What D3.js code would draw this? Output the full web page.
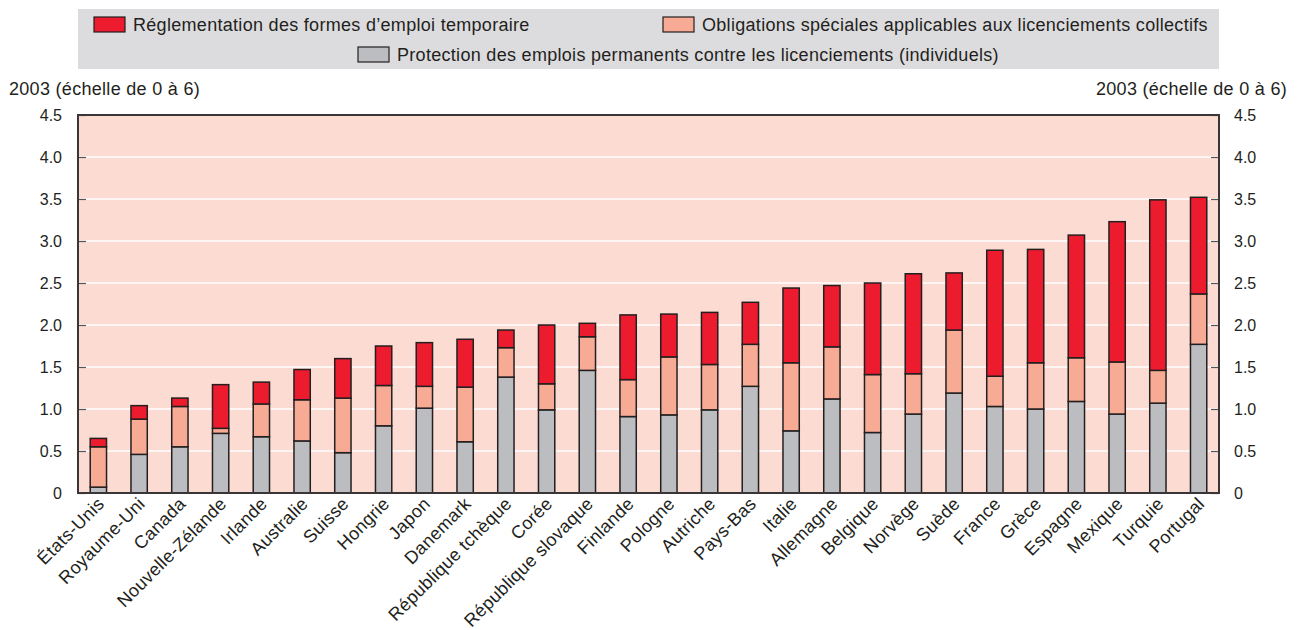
<!DOCTYPE html>
<meta charset="utf-8">
<style>
  body { margin: 0; background: #fff; }
  text { font-family: "Liberation Sans", Arial, sans-serif; fill: #231f20; }
</style>
<body>
<script src="https://d3js.org/d3.v7.min.js"></script>
<script>
var countries = ["États-Unis", "Royaume-Uni", "Canada", "Nouvelle-Zélande", "Irlande", "Australie",
  "Suisse", "Hongrie", "Japon", "Danemark", "République tchèque", "Corée", "République slovaque",
  "Finlande", "Pologne", "Autriche", "Pays-Bas", "Italie", "Allemagne", "Belgique", "Norvège",
  "Suède", "France", "Grèce", "Espagne", "Mexique", "Turquie", "Portugal"];

// protection des emplois permanents (individuels)
var permanent = [0.07, 0.46, 0.55, 0.71, 0.67, 0.62, 0.48, 0.80, 1.01, 0.61, 1.38, 0.99, 1.46,
  0.91, 0.93, 0.99, 1.27, 0.74, 1.12, 0.72, 0.94, 1.19, 1.03, 1.00, 1.09, 0.94, 1.07, 1.77];
// obligations spéciales, licenciements collectifs
var collectifs = [0.48, 0.42, 0.48, 0.06, 0.39, 0.49, 0.65, 0.48, 0.26, 0.65, 0.35, 0.31, 0.40,
  0.44, 0.69, 0.54, 0.50, 0.81, 0.62, 0.69, 0.48, 0.75, 0.36, 0.55, 0.52, 0.62, 0.39, 0.60];
// réglementation des formes d'emploi temporaire
var temporaire = [0.10, 0.16, 0.10, 0.52, 0.26, 0.36, 0.47, 0.47, 0.52, 0.57, 0.21, 0.70, 0.16,
  0.77, 0.51, 0.62, 0.50, 0.89, 0.73, 1.09, 1.19, 0.68, 1.50, 1.35, 1.46, 1.67, 2.03, 1.15];

var yTicks = [0, 0.5, 1, 1.5, 2, 2.5, 3, 3.5, 4, 4.5];
var axisTitle = "2003 (échelle de 0 à 6)";

var keys = ["permanent", "collectifs", "temporaire"];
var colors = {permanent: "#bcbdc0", collectifs: "#f7aa94", temporaire: "#ed1b2e"};
var legendLabels = {
  temporaire: "Réglementation des formes d\u2019emploi temporaire",
  collectifs: "Obligations spéciales applicables aux licenciements collectifs",
  permanent: "Protection des emplois permanents contre les licenciements (individuels)"
};

var rows = countries.map(function(c, i) {
  return {pays: c, permanent: permanent[i], collectifs: collectifs[i], temporaire: temporaire[i]};
});

var W = 1302, H = 630;
var margin = {top: 115, left: 78, right: 83, bottom: 137};
var width = W - margin.left - margin.right,
    height = H - margin.top - margin.bottom;

var svg = d3.select("body").append("svg")
    .attr("width", W)
    .attr("height", H);

var x = d3.scaleBand().domain(countries).range([0, width]).paddingInner(0.6).paddingOuter(0.3);
var y = d3.scaleLinear().domain([0, 4.5]).range([height, 0]);

var stack = d3.stack().keys(keys)(rows);

// legend
var legend = svg.append("g");
legend.append("rect")
    .attr("x", margin.left).attr("y", 9)
    .attr("width", width).attr("height", 60)
    .attr("fill", "#dcdcde");
var legendPos = [
  {key: "temporaire", x: 94, y: 17},
  {key: "collectifs", x: 663, y: 17},
  {key: "permanent", x: 358, y: 47}
];
legendPos.forEach(function(p) {
  legend.append("rect")
      .attr("x", p.x).attr("y", p.y)
      .attr("width", 31).attr("height", 15)
      .attr("fill", colors[p.key])
      .attr("stroke", "#231f20").attr("stroke-width", 1.2);
  legend.append("text")
      .attr("x", p.x + 39).attr("y", p.y + 14)
      .style("font-size", "18px")
      .style("letter-spacing", "0.3px")
      .text(legendLabels[p.key]);
});

// axis titles
svg.append("text")
    .attr("x", 9).attr("y", 95)
    .style("font-size", "18px")
    .style("letter-spacing", "0.3px")
    .text(axisTitle);
svg.append("text")
    .attr("x", W - 15).attr("y", 95)
    .style("font-size", "18px")
    .style("letter-spacing", "0.3px")
    .style("text-anchor", "end")
    .text(axisTitle);

var plot = svg.append("g")
    .attr("transform", "translate(" + margin.left + "," + margin.top + ")");

plot.append("rect")
    .attr("width", width).attr("height", height)
    .attr("fill", "#fcdcd2");

plot.selectAll(".grid")
    .data(yTicks.slice(1, -1))
  .enter().append("line")
    .attr("class", "grid")
    .attr("x1", 0).attr("x2", width)
    .attr("y1", function(d) { return y(d); })
    .attr("y2", function(d) { return y(d); })
    .attr("stroke", "#fff")
    .attr("stroke-width", 1.5);

var fmt = function(d) { return d === 0 ? "0" : d3.format(".1f")(d); };

var yLeft = plot.append("g")
    .call(d3.axisRight(y).tickValues(yTicks).tickFormat(fmt).tickSize(8));
var yRight = plot.append("g")
    .attr("transform", "translate(" + width + ",0)")
    .call(d3.axisLeft(y).tickValues(yTicks).tickFormat(fmt).tickSize(8));
[yLeft, yRight].forEach(function(g) {
  g.select(".domain").remove();
  g.selectAll("line").attr("stroke", "#555").attr("stroke-width", 1.2);
  g.selectAll("text").style("font-size", "16px").attr("fill", "#231f20");
});
yLeft.selectAll("text").style("text-anchor", "end").attr("x", -16);
yRight.selectAll("text").style("text-anchor", "start").attr("x", 15);

// bars
plot.selectAll(".serie")
    .data(stack)
  .enter().append("g")
    .attr("class", "serie")
    .attr("fill", function(d) { return colors[d.key]; })
  .selectAll("rect")
    .data(function(d) { return d; })
  .enter().append("rect")
    .attr("x", function(d) { return x(d.data.pays); })
    .attr("y", function(d) { return y(d[1]); })
    .attr("width", x.bandwidth())
    .attr("height", function(d) { return y(d[0]) - y(d[1]); })
    .attr("stroke", "#231f20")
    .attr("stroke-width", 1.5);

// frame
plot.append("rect")
    .attr("width", width).attr("height", height)
    .attr("fill", "none")
    .attr("stroke", "#3a3536")
    .attr("stroke-width", 2);

// x labels
plot.selectAll(".xlab")
    .data(countries)
  .enter().append("text")
    .attr("class", "xlab")
    .attr("transform", function(d) {
      return "translate(" + (x(d) + x.bandwidth() / 2 + 7) + "," + (height + 12) + ") rotate(-45)";
    })
    .style("text-anchor", "end")
    .style("font-size", "18px")
    .style("letter-spacing", "0.3px")
    .text(function(d) { return d; });
</script>
